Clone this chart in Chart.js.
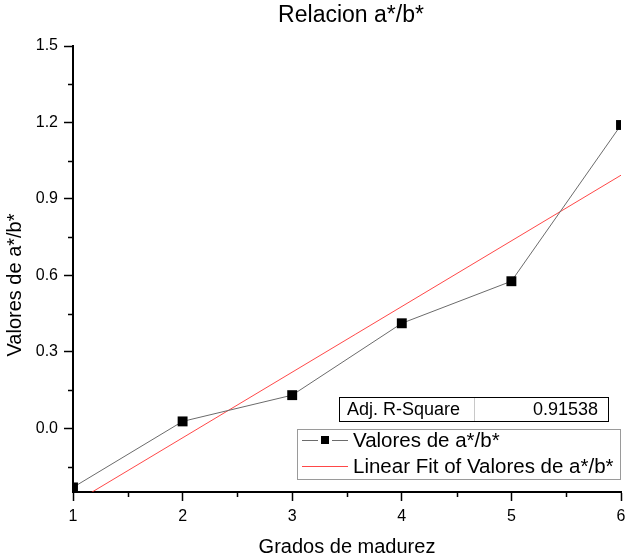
<!DOCTYPE html>
<html>
<head>
<meta charset="utf-8">
<script src="https://cdn.jsdelivr.net/npm/chart.js@4"></script>
<style>
  html, body { margin: 0; padding: 0; background: #fff; }
  #wrap { width: 625px; height: 559px; position: relative; }
</style>
</head>
<body>
<div id="wrap"><canvas id="myChart" width="625" height="559"></canvas></div>
<script>
// grados de madurez vs a*/b*
var grados = [1, 2, 3, 4, 5, 6];
var valores = [-0.232, 0.027, 0.13, 0.412, 0.577, 1.19];

// linear fit line (end points)
var fitX = [1, 6];
var fitY = [-0.295, 0.993];

var rSquareLabel = "Adj. R-Square";
var rSquareValue = "0.91538";

var titleText = "Relacion a*/b*";
var xTitle = "Grados de madurez";
var yTitle = "Valores de a*/b*";
var serieLabel = "Valores de a*/b*";
var fitLabel = "Linear Fit of Valores de a*/b*";

var fontFam = "'Liberation Sans', Arial, sans-serif";
var lineGrey = "#6b6b6b";
var fitRed = "rgba(255, 40, 40, 0.85)";

var puntos = grados.map(function (g, i) {
  return { x: g, y: valores[i] };
});
var fitPuntos = fitX.map(function (g, i) {
  return { x: g, y: fitY[i] };
});

function isMultiple(v, step) {
  var r = Math.abs(v / step - Math.round(v / step));
  return r < 1e-6;
}

function isMajorX(v) {
  return isMultiple(v, 1);
}
function isMajorY(v) {
  return v > -0.2 && isMultiple(v, 0.3);
}

// title, axis title, minor ticks, legend box and R-square box
var extras = {
  id: "extras",
  afterDraw: function (chart) {
    var ctx = chart.ctx;
    var area = chart.chartArea;
    var xs = chart.scales.x;
    var ys = chart.scales.y;
    ctx.save();

    // minor ticks
    ctx.strokeStyle = "#000";
    ctx.lineWidth = 1.5;
    ctx.beginPath();
    xs.ticks.forEach(function (t) {
      if (isMajorX(t.value)) return;
      var px = Math.round(xs.getPixelForValue(t.value)) + 0.5;
      ctx.moveTo(px, area.bottom);
      ctx.lineTo(px, area.bottom + 5);
    });
    ys.ticks.forEach(function (t) {
      if (isMajorY(t.value) || t.value < -0.2) return;
      var py = Math.round(ys.getPixelForValue(t.value)) + 0.5;
      ctx.moveTo(area.left, py);
      ctx.lineTo(area.left - 5, py);
    });
    ctx.stroke();

    // title
    ctx.fillStyle = "#000";
    ctx.font = "23px " + fontFam;
    ctx.textAlign = "center";
    ctx.textBaseline = "middle";
    ctx.fillText(titleText, 351, 16);

    // y axis title
    ctx.save();
    ctx.translate(15, 285);
    ctx.rotate(-Math.PI / 2);
    ctx.font = "20px " + fontFam;
    ctx.fillText(yTitle, 0, 0);
    ctx.restore();

    // R-square table
    ctx.lineWidth = 1;
    ctx.fillStyle = "#fff";
    ctx.fillRect(339.5, 397.5, 269, 24);
    ctx.strokeStyle = "#000";
    ctx.strokeRect(339.5, 397.5, 269, 24);
    ctx.strokeStyle = "#c8c8c8";
    ctx.beginPath();
    ctx.moveTo(474.5, 398);
    ctx.lineTo(474.5, 421);
    ctx.stroke();
    ctx.fillStyle = "#000";
    ctx.font = "18px " + fontFam;
    ctx.textAlign = "left";
    ctx.fillText(rSquareLabel, 347, 410);
    ctx.textAlign = "right";
    ctx.fillText(rSquareValue, 598, 410);

    // legend box
    ctx.fillStyle = "#fff";
    ctx.fillRect(297.5, 429.5, 323, 50);
    ctx.strokeStyle = "#9a9a9a";
    ctx.strokeRect(297.5, 429.5, 323, 50);

    // row 1: grey line with black square
    ctx.strokeStyle = lineGrey;
    ctx.beginPath();
    ctx.moveTo(302, 440.5);
    ctx.lineTo(318, 440.5);
    ctx.moveTo(332, 440.5);
    ctx.lineTo(348, 440.5);
    ctx.stroke();
    ctx.fillStyle = "#000";
    ctx.fillRect(321, 436, 8, 8);

    // row 2: red line
    ctx.strokeStyle = fitRed;
    ctx.beginPath();
    ctx.moveTo(302, 466.5);
    ctx.lineTo(348, 466.5);
    ctx.stroke();

    ctx.fillStyle = "#000";
    ctx.font = "20.5px " + fontFam;
    ctx.textAlign = "left";
    ctx.fillText(serieLabel, 353, 441);
    ctx.fillText(fitLabel, 353, 467);

    ctx.restore();
  },
};

new Chart("myChart", {
  type: "scatter",
  data: {
    datasets: [
      {
        label: serieLabel,
        data: puntos,
        showLine: true,
        borderColor: lineGrey,
        borderWidth: 1,
        pointStyle: "rect",
        pointRadius: 7,
        pointBackgroundColor: "#000",
        pointBorderColor: "#000",
        pointBorderWidth: 0,
      },
      {
        label: fitLabel,
        data: fitPuntos,
        showLine: true,
        borderColor: fitRed,
        borderWidth: 1,
        pointRadius: 0,
      },
    ],
  },
  options: {
    responsive: false,
    animation: false,
    layout: {
      autoPadding: false,
      padding: { top: 46, right: 4, left: 0, bottom: 0 },
    },
    plugins: {
      legend: { display: false },
      title: { display: false },
      tooltip: { enabled: false },
    },
    scales: {
      x: {
        type: "linear",
        min: 1,
        max: 6,
        border: { display: true, color: "#000", width: 2 },
        grid: {
          drawOnChartArea: false,
          drawTicks: true,
          tickLength: 9,
          tickWidth: 1.5,
          tickColor: function (c) {
            return c.tick && isMajorX(c.tick.value) ? "#000" : "rgba(0,0,0,0)";
          },
        },
        ticks: {
          stepSize: 0.5,
          autoSkip: false,
          maxRotation: 0,
          color: "#000",
          padding: 6,
          font: { size: 16, family: fontFam },
          callback: function (v) {
            return isMajorX(v) ? String(v) : "";
          },
        },
        title: {
          display: true,
          text: xTitle,
          color: "#000",
          font: { size: 20, family: fontFam },
          padding: { top: 10, bottom: 0 },
        },
        afterFit: function (scale) {
          scale.height = 67;
          scale.paddingRight = 0;
          scale.paddingLeft = 0;
        },
      },
      y: {
        type: "linear",
        min: -0.25,
        max: 1.5,
        border: { display: true, color: "#000", width: 2 },
        grid: {
          drawOnChartArea: false,
          drawTicks: true,
          tickLength: 9,
          tickWidth: 1.5,
          tickColor: function (c) {
            return c.tick && isMajorY(c.tick.value) ? "#000" : "rgba(0,0,0,0)";
          },
        },
        ticks: {
          stepSize: 0.15,
          autoSkip: false,
          color: "#000",
          padding: 6,
          font: { size: 16, family: fontFam },
          callback: function (v) {
            return isMajorY(v) ? v.toFixed(1) : "";
          },
        },
        afterFit: function (scale) {
          scale.width = 73;
        },
      },
    },
  },
  plugins: [extras],
});
</script>
</body>
</html>
